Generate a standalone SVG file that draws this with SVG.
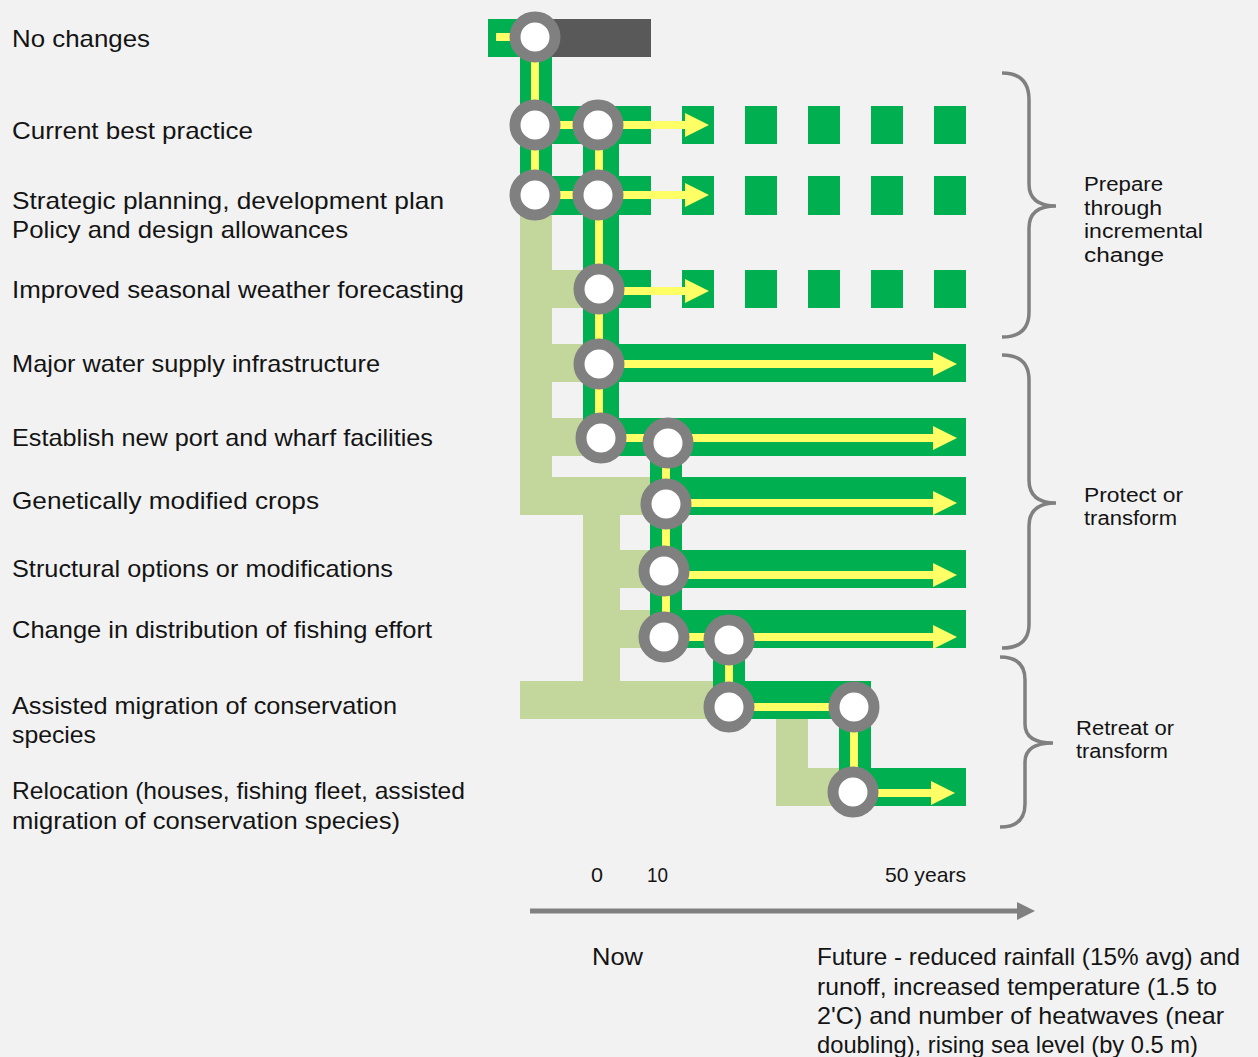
<svg xmlns="http://www.w3.org/2000/svg" width="1258" height="1057" viewBox="0 0 1258 1057">
<defs>
<style>
.lbl{font-family:"Liberation Sans",Arial,sans-serif;font-size:24px;fill:#141414}
.grp{font-family:"Liberation Sans",Arial,sans-serif;font-size:20px;fill:#141414}
.ax{font-family:"Liberation Sans",Arial,sans-serif;font-size:21px;fill:#141414}
.lg{fill:#C3D69B}
.g{fill:#00B050}
.y{stroke:#FFFF66;stroke-width:8;fill:none}
.ya{stroke:#FFFF66;stroke-width:8;fill:none;marker-end:url(#ah)}
.st{fill:#FFFFFF;stroke:#808080;stroke-width:11}
.br{fill:none;stroke:#808080;stroke-width:3.5}
</style>
<marker id="ah" markerUnits="userSpaceOnUse" markerWidth="24" markerHeight="24" refX="4" refY="12" orient="auto">
<path d="M0,0 L24,12 L0,24 Z" fill="#FFFF66"/>
</marker>
<marker id="axh" markerUnits="userSpaceOnUse" markerWidth="18" markerHeight="18" refX="2" refY="9" orient="auto">
<path d="M0,0 L18,9 L0,18 Z" fill="#808080"/>
</marker>
</defs>
<rect width="1258" height="1057" fill="#F2F2F2"/>

<g id="labels">
<text class="lbl" x="12" y="47" textLength="138" lengthAdjust="spacingAndGlyphs">No changes</text>
<text class="lbl" x="12" y="139" textLength="241" lengthAdjust="spacingAndGlyphs">Current best practice</text>
<text class="lbl" x="12" y="209" textLength="432" lengthAdjust="spacingAndGlyphs">Strategic planning, development plan</text>
<text class="lbl" x="12" y="237.5" textLength="336" lengthAdjust="spacingAndGlyphs">Policy and design allowances</text>
<text class="lbl" x="12" y="298" textLength="452" lengthAdjust="spacingAndGlyphs">Improved seasonal weather forecasting</text>
<text class="lbl" x="12" y="372" textLength="368" lengthAdjust="spacingAndGlyphs">Major water supply infrastructure</text>
<text class="lbl" x="12" y="446" textLength="421" lengthAdjust="spacingAndGlyphs">Establish new port and wharf facilities</text>
<text class="lbl" x="12" y="509" textLength="307" lengthAdjust="spacingAndGlyphs">Genetically modified crops</text>
<text class="lbl" x="12" y="577" textLength="381" lengthAdjust="spacingAndGlyphs">Structural options or modifications</text>
<text class="lbl" x="12" y="638" textLength="420" lengthAdjust="spacingAndGlyphs">Change in distribution of fishing effort</text>
<text class="lbl" x="12" y="714" textLength="385" lengthAdjust="spacingAndGlyphs">Assisted migration of conservation</text>
<text class="lbl" x="12" y="743" textLength="84" lengthAdjust="spacingAndGlyphs">species</text>
<text class="lbl" x="12" y="799" textLength="453" lengthAdjust="spacingAndGlyphs">Relocation (houses, fishing fleet, assisted</text>
<text class="lbl" x="12" y="829" textLength="388" lengthAdjust="spacingAndGlyphs">migration of conservation species)</text>
</g>

<g id="background-paths">
<rect class="lg" x="520" y="195" width="32" height="320"/>
<rect class="lg" x="552" y="270" width="31" height="38"/>
<rect class="lg" x="552" y="344" width="31" height="38"/>
<rect class="lg" x="552" y="418" width="31" height="38"/>
<rect class="lg" x="520" y="477" width="130" height="38"/>
<rect class="lg" x="583" y="515" width="37" height="204"/>
<rect class="lg" x="620" y="550" width="30" height="38"/>
<rect class="lg" x="620" y="610" width="30" height="38"/>
<rect class="lg" x="520" y="681" width="193" height="38"/>
<rect class="lg" x="776" y="719" width="32" height="87"/>
<rect class="lg" x="776" y="768" width="63" height="38"/>
</g>

<g id="pathways">
<rect x="552" y="19" width="99" height="38" fill="#595959"/>
<rect class="g" x="488" y="19" width="64" height="38"/>
<rect class="g" x="520" y="37" width="32" height="158"/>
<rect class="g" x="520" y="106" width="131" height="38"/>
<rect class="g" x="520" y="176" width="131" height="39"/>
<rect class="g" x="583" y="125" width="36" height="313"/>
<rect class="g" x="583" y="270" width="68" height="38"/>
<rect class="g" x="583" y="344" width="383" height="38"/>
<rect class="g" x="583" y="418" width="383" height="38"/>
<rect class="g" x="650" y="438" width="32" height="200"/>
<rect class="g" x="650" y="477" width="316" height="38"/>
<rect class="g" x="650" y="550" width="316" height="38"/>
<rect class="g" x="650" y="610" width="316" height="38"/>
<rect class="g" x="713" y="640" width="32" height="67"/>
<rect class="g" x="713" y="681" width="158" height="38"/>
<rect class="g" x="839" y="707" width="32" height="85"/>
<rect class="g" x="839" y="768" width="127" height="38"/>
<g id="dashes">
<rect class="g" x="682" y="106" width="32" height="38"/>
<rect class="g" x="745" y="106" width="32" height="38"/>
<rect class="g" x="808" y="106" width="32" height="38"/>
<rect class="g" x="871" y="106" width="32" height="38"/>
<rect class="g" x="934" y="106" width="32" height="38"/>
<rect class="g" x="682" y="176" width="32" height="39"/>
<rect class="g" x="745" y="176" width="32" height="39"/>
<rect class="g" x="808" y="176" width="32" height="39"/>
<rect class="g" x="871" y="176" width="32" height="39"/>
<rect class="g" x="934" y="176" width="32" height="39"/>
<rect class="g" x="682" y="270" width="32" height="38"/>
<rect class="g" x="745" y="270" width="32" height="38"/>
<rect class="g" x="808" y="270" width="32" height="38"/>
<rect class="g" x="871" y="270" width="32" height="38"/>
<rect class="g" x="934" y="270" width="32" height="38"/>
</g>
</g>

<g id="connectors">
<path class="y" d="M496,37 H535 V195"/>
<path class="y" d="M535,125 H598"/>
<path class="y" d="M535,195 H598"/>
<path class="y" d="M599,125 V438"/>
<path class="ya" d="M598,125 H689"/>
<path class="ya" d="M598,195 H689"/>
<path class="ya" d="M599,291 H689"/>
<path class="ya" d="M599,364 H937"/>
<path class="y" d="M601,438 H668"/>
<path class="ya" d="M668,438 H937"/>
<path class="y" d="M666,443 V637"/>
<path class="ya" d="M666,503 H937"/>
<path class="ya" d="M664,575 H937"/>
<path class="y" d="M664,637 H729"/>
<path class="ya" d="M729,637 H937"/>
<path class="y" d="M729,640 V707 H854 V792"/>
<path class="ya" d="M853,793 H935"/>
</g>

<g id="nodes">
<circle id="n-nochange" class="st" cx="535" cy="37" r="20"/>
<circle id="n-cbp-a" class="st" cx="535" cy="125" r="20"/>
<circle id="n-cbp-b" class="st" cx="598" cy="125" r="20"/>
<circle id="n-sp-a" class="st" cx="535" cy="195" r="20"/>
<circle id="n-sp-b" class="st" cx="598" cy="195" r="20"/>
<circle id="n-forecast" class="st" cx="599" cy="289" r="20"/>
<circle id="n-water" class="st" cx="599" cy="364" r="20"/>
<circle id="n-port-a" class="st" cx="601" cy="438" r="20"/>
<circle id="n-port-b" class="st" cx="668" cy="443" r="20"/>
<circle id="n-gm" class="st" cx="666" cy="504" r="20"/>
<circle id="n-struct" class="st" cx="664" cy="571" r="20"/>
<circle id="n-fish-a" class="st" cx="664" cy="637" r="20"/>
<circle id="n-fish-b" class="st" cx="729" cy="640" r="20"/>
<circle id="n-assist-a" class="st" cx="729" cy="707" r="20"/>
<circle id="n-assist-b" class="st" cx="854" cy="707" r="20"/>
<circle id="n-reloc" class="st" cx="853" cy="792" r="20"/>
</g>

<g id="braces">
<path class="br" d="M1002,73 Q1029,73 1029,100 L1029,184 Q1029,206 1056,206 Q1029,206 1029,228 L1029,312 Q1029,337 1002,337"/>
<path class="br" d="M1002,355 Q1029,355 1029,380 L1029,480 Q1029,503 1056,503 Q1029,503 1029,526 L1029,624 Q1029,648 1002,648"/>
<path class="br" d="M1000,657 Q1025,657 1025,680 L1025,724 Q1025,743 1053,743 Q1025,743 1025,762 L1025,804 Q1025,827 1000,827"/>
</g>

<g id="group-labels">
<text class="grp" x="1084" y="191" textLength="79" lengthAdjust="spacingAndGlyphs">Prepare</text>
<text class="grp" x="1084" y="214.5" textLength="78" lengthAdjust="spacingAndGlyphs">through</text>
<text class="grp" x="1084" y="238" textLength="119" lengthAdjust="spacingAndGlyphs">incremental</text>
<text class="grp" x="1084" y="261.5" textLength="80" lengthAdjust="spacingAndGlyphs">change</text>
<text class="grp" x="1084" y="502" textLength="99" lengthAdjust="spacingAndGlyphs">Protect or</text>
<text class="grp" x="1084" y="525" textLength="93" lengthAdjust="spacingAndGlyphs">transform</text>
<text class="grp" x="1076" y="735" textLength="98" lengthAdjust="spacingAndGlyphs">Retreat or</text>
<text class="grp" x="1076" y="758" textLength="92" lengthAdjust="spacingAndGlyphs">transform</text>
</g>

<g id="axis">
<line x1="530" y1="911" x2="1019" y2="911" stroke="#808080" stroke-width="5" marker-end="url(#axh)"/>
<text class="ax" x="591" y="882" textLength="12" lengthAdjust="spacingAndGlyphs">0</text>
<text class="ax" x="647" y="882" textLength="21" lengthAdjust="spacingAndGlyphs">10</text>
<text class="ax" x="885" y="882" textLength="81" lengthAdjust="spacingAndGlyphs">50 years</text>
<text class="lbl" x="592" y="965" textLength="51" lengthAdjust="spacingAndGlyphs">Now</text>
<text class="lbl" x="817" y="965" textLength="423" lengthAdjust="spacingAndGlyphs">Future - reduced rainfall (15% avg) and</text>
<text class="lbl" x="817" y="995" textLength="400" lengthAdjust="spacingAndGlyphs">runoff, increased temperature (1.5 to</text>
<text class="lbl" x="817" y="1024" textLength="407" lengthAdjust="spacingAndGlyphs">2'C) and number of heatwaves (near</text>
<text class="lbl" x="817" y="1053" textLength="381" lengthAdjust="spacingAndGlyphs">doubling), rising sea level (by 0.5 m)</text>
</g>
</svg>
